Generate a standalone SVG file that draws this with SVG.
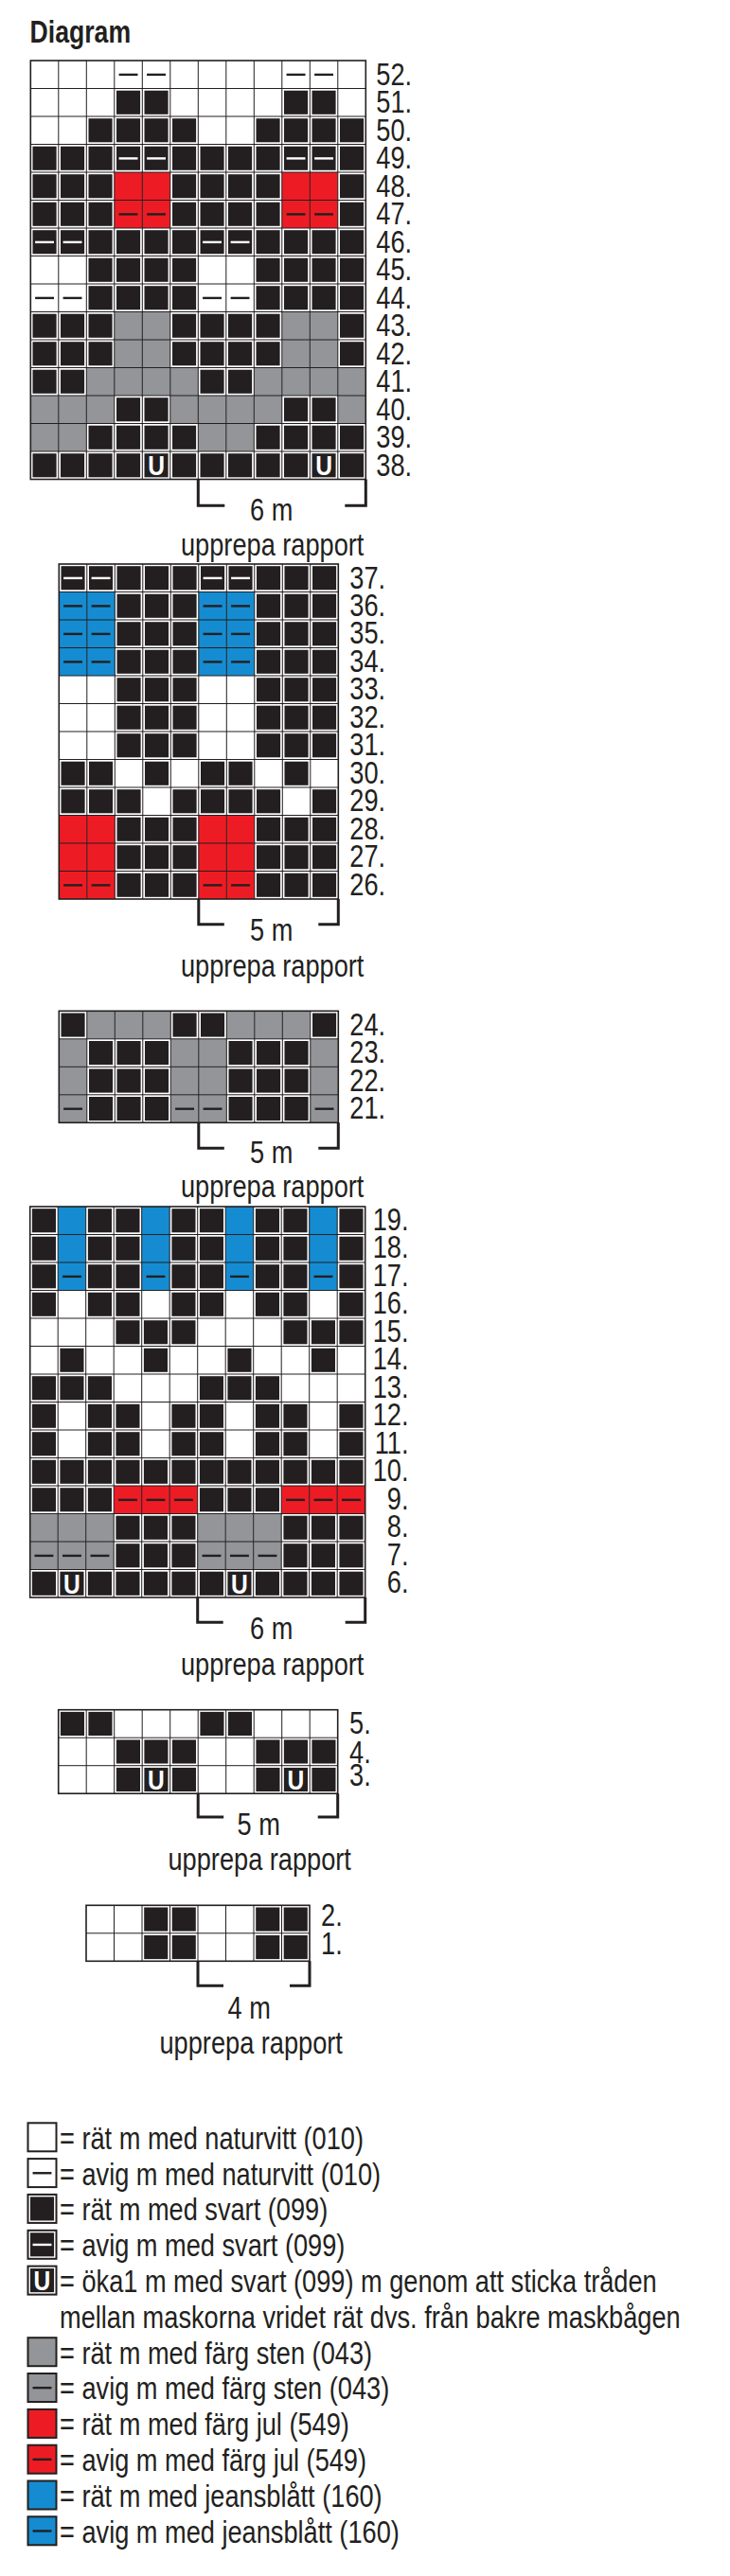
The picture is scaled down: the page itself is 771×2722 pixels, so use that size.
<svg xmlns="http://www.w3.org/2000/svg" width="771" height="2722" viewBox="0 0 771 2722">
<style>
text{font-family:"Liberation Sans",Arial,sans-serif;fill:#231f20;font-size:34px}
.grid{fill:none;stroke:#231f20;stroke-width:1}
.bd{fill:none;stroke:#231f20;stroke-width:1.6}
.br{fill:none;stroke:#231f20;stroke-width:3;stroke-linecap:butt;stroke-linejoin:miter}
.lb{fill:none;stroke:#231f20;stroke-width:2}
.bg{fill:#fff}
</style>
<defs>
<rect id="B" x="2.2" y="2.2" width="25.1" height="25.1" fill="#231f20"/>
<line id="dK" x1="4.8" y1="14.9" x2="24.7" y2="14.9" stroke="#231f20" stroke-width="2.4"/>
<line id="dW" x1="4.8" y1="14.9" x2="24.7" y2="14.9" stroke="#fff" stroke-width="2.4"/>
<g id="Wp"><use href="#dK"/></g>
<g id="Bp"><use href="#B"/><use href="#dW"/></g>
<g id="U"><use href="#B"/><text transform="translate(14.75,25) scale(0.82,1)" text-anchor="middle" style="font-weight:bold;font-size:30px;fill:#fff">U</text></g>
<rect id="G" width="29.5" height="29.5" fill="#939598"/>
<g id="Gp"><use href="#G"/><use href="#dK"/></g>
<rect id="R" width="29.5" height="29.5" fill="#ed1c24"/>
<g id="Rp"><use href="#R"/><use href="#dK"/></g>
<rect id="L" width="29.5" height="29.5" fill="#158cd1"/>
<g id="Lp"><use href="#L"/><use href="#dK"/></g>
</defs>

<text id="title" transform="translate(31.5,45) scale(0.82,1)" style="font-weight:bold;font-size:32.5px">Diagram</text>

<g id="chart-38-52">
<g transform="translate(32.3,64)">
<rect class="bg" width="354" height="442.5"/>
<g id="u1">
<use href="#Wp" x="88.5" y="0"/><use href="#Wp" x="118" y="0"/>
<use href="#B" x="88.5" y="29.5"/><use href="#B" x="118" y="29.5"/>
<use href="#B" x="59" y="59"/><use href="#B" x="88.5" y="59"/><use href="#B" x="118" y="59"/><use href="#B" x="147.5" y="59"/>
<use href="#B" x="0" y="88.5"/><use href="#B" x="29.5" y="88.5"/><use href="#B" x="59" y="88.5"/><use href="#Bp" x="88.5" y="88.5"/><use href="#Bp" x="118" y="88.5"/><use href="#B" x="147.5" y="88.5"/>
<use href="#B" x="0" y="118"/><use href="#B" x="29.5" y="118"/><use href="#B" x="59" y="118"/><use href="#R" x="88.5" y="118"/><use href="#R" x="118" y="118"/><use href="#B" x="147.5" y="118"/>
<use href="#B" x="0" y="147.5"/><use href="#B" x="29.5" y="147.5"/><use href="#B" x="59" y="147.5"/><use href="#Rp" x="88.5" y="147.5"/><use href="#Rp" x="118" y="147.5"/><use href="#B" x="147.5" y="147.5"/>
<use href="#Bp" x="0" y="177"/><use href="#Bp" x="29.5" y="177"/><use href="#B" x="59" y="177"/><use href="#B" x="88.5" y="177"/><use href="#B" x="118" y="177"/><use href="#B" x="147.5" y="177"/>
<use href="#B" x="59" y="206.5"/><use href="#B" x="88.5" y="206.5"/><use href="#B" x="118" y="206.5"/><use href="#B" x="147.5" y="206.5"/>
<use href="#Wp" x="0" y="236"/><use href="#Wp" x="29.5" y="236"/><use href="#B" x="59" y="236"/><use href="#B" x="88.5" y="236"/><use href="#B" x="118" y="236"/><use href="#B" x="147.5" y="236"/>
<use href="#B" x="0" y="265.5"/><use href="#B" x="29.5" y="265.5"/><use href="#B" x="59" y="265.5"/><use href="#G" x="88.5" y="265.5"/><use href="#G" x="118" y="265.5"/><use href="#B" x="147.5" y="265.5"/>
<use href="#B" x="0" y="295"/><use href="#B" x="29.5" y="295"/><use href="#B" x="59" y="295"/><use href="#G" x="88.5" y="295"/><use href="#G" x="118" y="295"/><use href="#B" x="147.5" y="295"/>
<use href="#B" x="0" y="324.5"/><use href="#B" x="29.5" y="324.5"/><use href="#G" x="59" y="324.5"/><use href="#G" x="88.5" y="324.5"/><use href="#G" x="118" y="324.5"/><use href="#G" x="147.5" y="324.5"/>
<use href="#G" x="0" y="354"/><use href="#G" x="29.5" y="354"/><use href="#G" x="59" y="354"/><use href="#B" x="88.5" y="354"/><use href="#B" x="118" y="354"/><use href="#G" x="147.5" y="354"/>
<use href="#G" x="0" y="383.5"/><use href="#G" x="29.5" y="383.5"/><use href="#B" x="59" y="383.5"/><use href="#B" x="88.5" y="383.5"/><use href="#B" x="118" y="383.5"/><use href="#B" x="147.5" y="383.5"/>
<use href="#B" x="0" y="413"/><use href="#B" x="29.5" y="413"/><use href="#B" x="59" y="413"/><use href="#B" x="88.5" y="413"/><use href="#U" x="118" y="413"/><use href="#B" x="147.5" y="413"/>
</g>
<use href="#u1" x="177"/>
<path class="grid" d="M29.5 0V442.5M59 0V442.5M88.5 0V442.5M118 0V442.5M147.5 0V442.5M177 0V442.5M206.5 0V442.5M236 0V442.5M265.5 0V442.5M295 0V442.5M324.5 0V442.5M0 29.5H354M0 59H354M0 88.5H354M0 118H354M0 147.5H354M0 177H354M0 206.5H354M0 236H354M0 265.5H354M0 295H354M0 324.5H354M0 354H354M0 383.5H354M0 413H354"/>
<rect class="bd" width="354" height="442.5"/>
<g transform="translate(402.8,0) scale(0.8,1)" text-anchor="end">
<text y="26">52.</text><text y="55.5">51.</text><text y="85">50.</text><text y="114.5">49.</text><text y="144">48.</text><text y="173.5">47.</text><text y="203">46.</text><text y="232.5">45.</text><text y="262">44.</text><text y="291.5">43.</text><text y="321">42.</text><text y="350.5">41.</text><text y="380">40.</text><text y="409.5">39.</text><text y="439">38.</text>
</g>
</g>
<text transform="translate(264,550) scale(0.8,1)">6 m</text>
<text transform="translate(191,587) scale(0.8,1)">upprepa rapport</text>
</g>

<g id="chart-26-37">
<g transform="translate(62.3,596)">
<rect class="bg" width="295" height="354"/>
<g id="u2">
<use href="#Bp" x="0" y="0"/><use href="#Bp" x="29.5" y="0"/><use href="#B" x="59" y="0"/><use href="#B" x="88.5" y="0"/><use href="#B" x="118" y="0"/>
<use href="#Lp" x="0" y="29.5"/><use href="#Lp" x="29.5" y="29.5"/><use href="#B" x="59" y="29.5"/><use href="#B" x="88.5" y="29.5"/><use href="#B" x="118" y="29.5"/>
<use href="#Lp" x="0" y="59"/><use href="#Lp" x="29.5" y="59"/><use href="#B" x="59" y="59"/><use href="#B" x="88.5" y="59"/><use href="#B" x="118" y="59"/>
<use href="#Lp" x="0" y="88.5"/><use href="#Lp" x="29.5" y="88.5"/><use href="#B" x="59" y="88.5"/><use href="#B" x="88.5" y="88.5"/><use href="#B" x="118" y="88.5"/>
<use href="#B" x="59" y="118"/><use href="#B" x="88.5" y="118"/><use href="#B" x="118" y="118"/>
<use href="#B" x="59" y="147.5"/><use href="#B" x="88.5" y="147.5"/><use href="#B" x="118" y="147.5"/>
<use href="#B" x="59" y="177"/><use href="#B" x="88.5" y="177"/><use href="#B" x="118" y="177"/>
<use href="#B" x="0" y="206.5"/><use href="#B" x="29.5" y="206.5"/><use href="#B" x="88.5" y="206.5"/>
<use href="#B" x="0" y="236"/><use href="#B" x="29.5" y="236"/><use href="#B" x="59" y="236"/><use href="#B" x="118" y="236"/>
<use href="#R" x="0" y="265.5"/><use href="#R" x="29.5" y="265.5"/><use href="#B" x="59" y="265.5"/><use href="#B" x="88.5" y="265.5"/><use href="#B" x="118" y="265.5"/>
<use href="#R" x="0" y="295"/><use href="#R" x="29.5" y="295"/><use href="#B" x="59" y="295"/><use href="#B" x="88.5" y="295"/><use href="#B" x="118" y="295"/>
<use href="#Rp" x="0" y="324.5"/><use href="#Rp" x="29.5" y="324.5"/><use href="#B" x="59" y="324.5"/><use href="#B" x="88.5" y="324.5"/><use href="#B" x="118" y="324.5"/>
</g>
<use href="#u2" x="147.5"/>
<path class="grid" d="M29.5 0V354M59 0V354M88.5 0V354M118 0V354M147.5 0V354M177 0V354M206.5 0V354M236 0V354M265.5 0V354M0 29.5H295M0 59H295M0 88.5H295M0 118H295M0 147.5H295M0 177H295M0 206.5H295M0 236H295M0 265.5H295M0 295H295M0 324.5H295"/>
<rect class="bd" width="295" height="354"/>
<g transform="translate(344.8,0) scale(0.8,1)" text-anchor="end">
<text y="25.5">37.</text><text y="55">36.</text><text y="84.5">35.</text><text y="114">34.</text><text y="143.5">33.</text><text y="173">32.</text><text y="202.5">31.</text><text y="232">30.</text><text y="261.5">29.</text><text y="291">28.</text><text y="320.5">27.</text><text y="350">26.</text>
</g>
</g>
<text transform="translate(264,994) scale(0.8,1)">5 m</text>
<text transform="translate(191,1032) scale(0.8,1)">upprepa rapport</text>
</g>

<g id="chart-21-24">
<g transform="translate(62.3,1068.3)">
<rect class="bg" width="295" height="118"/>
<g id="u3">
<use href="#B" x="0" y="0"/><use href="#G" x="29.5" y="0"/><use href="#G" x="59" y="0"/><use href="#G" x="88.5" y="0"/><use href="#B" x="118" y="0"/>
<use href="#G" x="0" y="29.5"/><use href="#B" x="29.5" y="29.5"/><use href="#B" x="59" y="29.5"/><use href="#B" x="88.5" y="29.5"/><use href="#G" x="118" y="29.5"/>
<use href="#G" x="0" y="59"/><use href="#B" x="29.5" y="59"/><use href="#B" x="59" y="59"/><use href="#B" x="88.5" y="59"/><use href="#G" x="118" y="59"/>
<use href="#Gp" x="0" y="88.5"/><use href="#B" x="29.5" y="88.5"/><use href="#B" x="59" y="88.5"/><use href="#B" x="88.5" y="88.5"/><use href="#Gp" x="118" y="88.5"/>
</g>
<use href="#u3" x="147.5"/>
<path class="grid" d="M29.5 0V118M59 0V118M88.5 0V118M118 0V118M147.5 0V118M177 0V118M206.5 0V118M236 0V118M265.5 0V118M0 29.5H295M0 59H295M0 88.5H295"/>
<rect class="bd" width="295" height="118"/>
<g transform="translate(344.8,0) scale(0.8,1)" text-anchor="end">
<text y="25.5">24.</text><text y="55">23.</text><text y="84.5">22.</text><text y="114">21.</text>
</g>
</g>
<text transform="translate(264,1229.3) scale(0.8,1)">5 m</text>
<text transform="translate(191,1265) scale(0.8,1)">upprepa rapport</text>
</g>

<g id="chart-6-19">
<g transform="translate(31.7,1275)">
<rect class="bg" width="354" height="413"/>
<g id="u4">
<use href="#B" x="0" y="0"/><use href="#L" x="29.5" y="0"/><use href="#B" x="59" y="0"/><use href="#B" x="88.5" y="0"/><use href="#L" x="118" y="0"/><use href="#B" x="147.5" y="0"/>
<use href="#B" x="0" y="29.5"/><use href="#L" x="29.5" y="29.5"/><use href="#B" x="59" y="29.5"/><use href="#B" x="88.5" y="29.5"/><use href="#L" x="118" y="29.5"/><use href="#B" x="147.5" y="29.5"/>
<use href="#B" x="0" y="59"/><use href="#Lp" x="29.5" y="59"/><use href="#B" x="59" y="59"/><use href="#B" x="88.5" y="59"/><use href="#Lp" x="118" y="59"/><use href="#B" x="147.5" y="59"/>
<use href="#B" x="0" y="88.5"/><use href="#B" x="59" y="88.5"/><use href="#B" x="88.5" y="88.5"/><use href="#B" x="147.5" y="88.5"/>
<use href="#B" x="88.5" y="118"/><use href="#B" x="118" y="118"/><use href="#B" x="147.5" y="118"/>
<use href="#B" x="29.5" y="147.5"/><use href="#B" x="118" y="147.5"/>
<use href="#B" x="0" y="177"/><use href="#B" x="29.5" y="177"/><use href="#B" x="59" y="177"/>
<use href="#B" x="0" y="206.5"/><use href="#B" x="59" y="206.5"/><use href="#B" x="88.5" y="206.5"/><use href="#B" x="147.5" y="206.5"/>
<use href="#B" x="0" y="236"/><use href="#B" x="59" y="236"/><use href="#B" x="88.5" y="236"/><use href="#B" x="147.5" y="236"/>
<use href="#B" x="0" y="265.5"/><use href="#B" x="29.5" y="265.5"/><use href="#B" x="59" y="265.5"/><use href="#B" x="88.5" y="265.5"/><use href="#B" x="118" y="265.5"/><use href="#B" x="147.5" y="265.5"/>
<use href="#B" x="0" y="295"/><use href="#B" x="29.5" y="295"/><use href="#B" x="59" y="295"/><use href="#Rp" x="88.5" y="295"/><use href="#Rp" x="118" y="295"/><use href="#Rp" x="147.5" y="295"/>
<use href="#G" x="0" y="324.5"/><use href="#G" x="29.5" y="324.5"/><use href="#G" x="59" y="324.5"/><use href="#B" x="88.5" y="324.5"/><use href="#B" x="118" y="324.5"/><use href="#B" x="147.5" y="324.5"/>
<use href="#Gp" x="0" y="354"/><use href="#Gp" x="29.5" y="354"/><use href="#Gp" x="59" y="354"/><use href="#B" x="88.5" y="354"/><use href="#B" x="118" y="354"/><use href="#B" x="147.5" y="354"/>
<use href="#B" x="0" y="383.5"/><use href="#U" x="29.5" y="383.5"/><use href="#B" x="59" y="383.5"/><use href="#B" x="88.5" y="383.5"/><use href="#B" x="118" y="383.5"/><use href="#B" x="147.5" y="383.5"/>
</g>
<use href="#u4" x="177"/>
<path class="grid" d="M29.5 0V413M59 0V413M88.5 0V413M118 0V413M147.5 0V413M177 0V413M206.5 0V413M236 0V413M265.5 0V413M295 0V413M324.5 0V413M0 29.5H354M0 59H354M0 88.5H354M0 118H354M0 147.5H354M0 177H354M0 206.5H354M0 236H354M0 265.5H354M0 295H354M0 324.5H354M0 354H354M0 383.5H354"/>
<rect class="bd" width="354" height="413"/>
<g transform="translate(399.8,0) scale(0.8,1)" text-anchor="end">
<text y="25">19.</text><text y="54.5">18.</text><text y="84">17.</text><text y="113.5">16.</text><text y="143">15.</text><text y="172.5">14.</text><text y="202">13.</text><text y="231.5">12.</text><text y="261">11.</text><text y="290.5">10.</text><text y="320">9.</text><text y="349.5">8.</text><text y="379">7.</text><text y="408.5">6.</text>
</g>
</g>
<text transform="translate(264,1732.3) scale(0.8,1)">6 m</text>
<text transform="translate(191,1770) scale(0.8,1)">upprepa rapport</text>
</g>

<g id="chart-3-5">
<g transform="translate(61.7,1806.7)">
<rect class="bg" width="295" height="88.5"/>
<g id="u5">
<use href="#B" x="0" y="0"/><use href="#B" x="29.5" y="0"/>
<use href="#B" x="59" y="29.5"/><use href="#B" x="88.5" y="29.5"/><use href="#B" x="118" y="29.5"/>
<use href="#B" x="59" y="59"/><use href="#U" x="88.5" y="59"/><use href="#B" x="118" y="59"/>
</g>
<use href="#u5" x="147.5"/>
<path class="grid" d="M29.5 0V88.5M59 0V88.5M88.5 0V88.5M118 0V88.5M147.5 0V88.5M177 0V88.5M206.5 0V88.5M236 0V88.5M265.5 0V88.5M0 29.5H295M0 59H295"/>
<rect class="bd" width="295" height="88.5"/>
<g transform="translate(330,0) scale(0.8,1)" text-anchor="end">
<text y="25">5.</text><text y="56.5">4.</text><text y="80.5">3.</text>
</g>
</g>
<text transform="translate(250.5,1938.5) scale(0.8,1)">5 m</text>
<text transform="translate(177.5,1976) scale(0.8,1)">upprepa rapport</text>
</g>

<g id="chart-1-2">
<g transform="translate(91,2013.3)">
<rect class="bg" width="236" height="59"/>
<g id="u6">
<use href="#B" x="59" y="0"/><use href="#B" x="88.5" y="0"/>
<use href="#B" x="59" y="29.5"/><use href="#B" x="88.5" y="29.5"/>
</g>
<use href="#u6" x="118"/>
<path class="grid" d="M29.5 0V59M59 0V59M88.5 0V59M118 0V59M147.5 0V59M177 0V59M206.5 0V59M0 29.5H236"/>
<rect class="bd" width="236" height="59"/>
<g transform="translate(270.7,0) scale(0.8,1)" text-anchor="end">
<text y="22">2.</text><text y="52">1.</text>
</g>
</g>
<text transform="translate(240.5,2132.7) scale(0.8,1)">4 m</text>
<text transform="translate(168.5,2170) scale(0.8,1)">upprepa rapport</text>
</g>

<g id="connectors">
<path class="br" d="M209.3 506.5V534.3H237.3M364.3 534.3H386.3V506.5"/>
<path class="br" d="M209.8 950V976.7H236.8M336.3 976.7H357.3V950"/>
<path class="br" d="M209.8 1186.3V1213.3H236.8M336.3 1213.3H357.3V1186.3"/>
<path class="br" d="M208.7 1688V1714.3H235.7M364.7 1714.3H385.7V1688"/>
<path class="br" d="M209.2 1895.2V1920H236.2M335.7 1920H356.7V1895.2"/>
<path class="br" d="M209 2072.3V2098.3H236M306 2098.3H327V2072.3"/>
</g>

<g id="legend">
<g id="leg-W"><rect class="bg" x="29.5" y="2243.3" width="30" height="30"/><rect class="lb" x="29.5" y="2243.3" width="30" height="30"/><text transform="translate(63,2270.7) scale(0.8,1)">= rät m med naturvitt (010)</text></g>
<g id="leg-Wp"><use href="#Wp" x="29.75" y="2281.35"/><rect class="lb" x="29.5" y="2281.1" width="30" height="30"/><text transform="translate(63,2308.5) scale(0.8,1)">= avig m med naturvitt (010)</text></g>
<g id="leg-B"><use href="#B" x="29.75" y="2319.15"/><rect class="lb" x="29.5" y="2318.9" width="30" height="30"/><text transform="translate(63,2346.3) scale(0.8,1)">= rät m med svart (099)</text></g>
<g id="leg-Bp"><use href="#Bp" x="29.75" y="2357.05"/><rect class="lb" x="29.5" y="2356.8" width="30" height="30"/><text transform="translate(63,2384.2) scale(0.8,1)">= avig m med svart (099)</text></g>
<g id="leg-U"><use href="#U" x="29.75" y="2394.85"/><rect class="lb" x="29.5" y="2394.6" width="30" height="30"/><text transform="translate(63,2422) scale(0.8,1)">= öka1 m med svart (099) m genom att sticka tråden</text><text transform="translate(63,2459.8) scale(0.8,1)">mellan maskorna vridet rät dvs. från bakre maskbågen</text></g>
<g id="leg-G"><use href="#G" x="29.75" y="2470.45"/><rect class="lb" x="29.5" y="2470.2" width="30" height="30"/><text transform="translate(63,2497.6) scale(0.8,1)">= rät m med färg sten (043)</text></g>
<g id="leg-Gp"><use href="#Gp" x="29.75" y="2508.25"/><rect class="lb" x="29.5" y="2508" width="30" height="30"/><text transform="translate(63,2535.4) scale(0.8,1)">= avig m med färg sten (043)</text></g>
<g id="leg-R"><use href="#R" x="29.75" y="2546.15"/><rect class="lb" x="29.5" y="2545.9" width="30" height="30"/><text transform="translate(63,2573.3) scale(0.8,1)">= rät m med färg jul (549)</text></g>
<g id="leg-Rp"><use href="#Rp" x="29.75" y="2583.95"/><rect class="lb" x="29.5" y="2583.7" width="30" height="30"/><text transform="translate(63,2611.1) scale(0.8,1)">= avig m med färg jul (549)</text></g>
<g id="leg-L"><use href="#L" x="29.75" y="2621.75"/><rect class="lb" x="29.5" y="2621.5" width="30" height="30"/><text transform="translate(63,2648.9) scale(0.8,1)">= rät m med jeansblått (160)</text></g>
<g id="leg-Lp"><use href="#Lp" x="29.75" y="2659.55"/><rect class="lb" x="29.5" y="2659.3" width="30" height="30"/><text transform="translate(63,2686.7) scale(0.8,1)">= avig m med jeansblått (160)</text></g>
</g>
</svg>
